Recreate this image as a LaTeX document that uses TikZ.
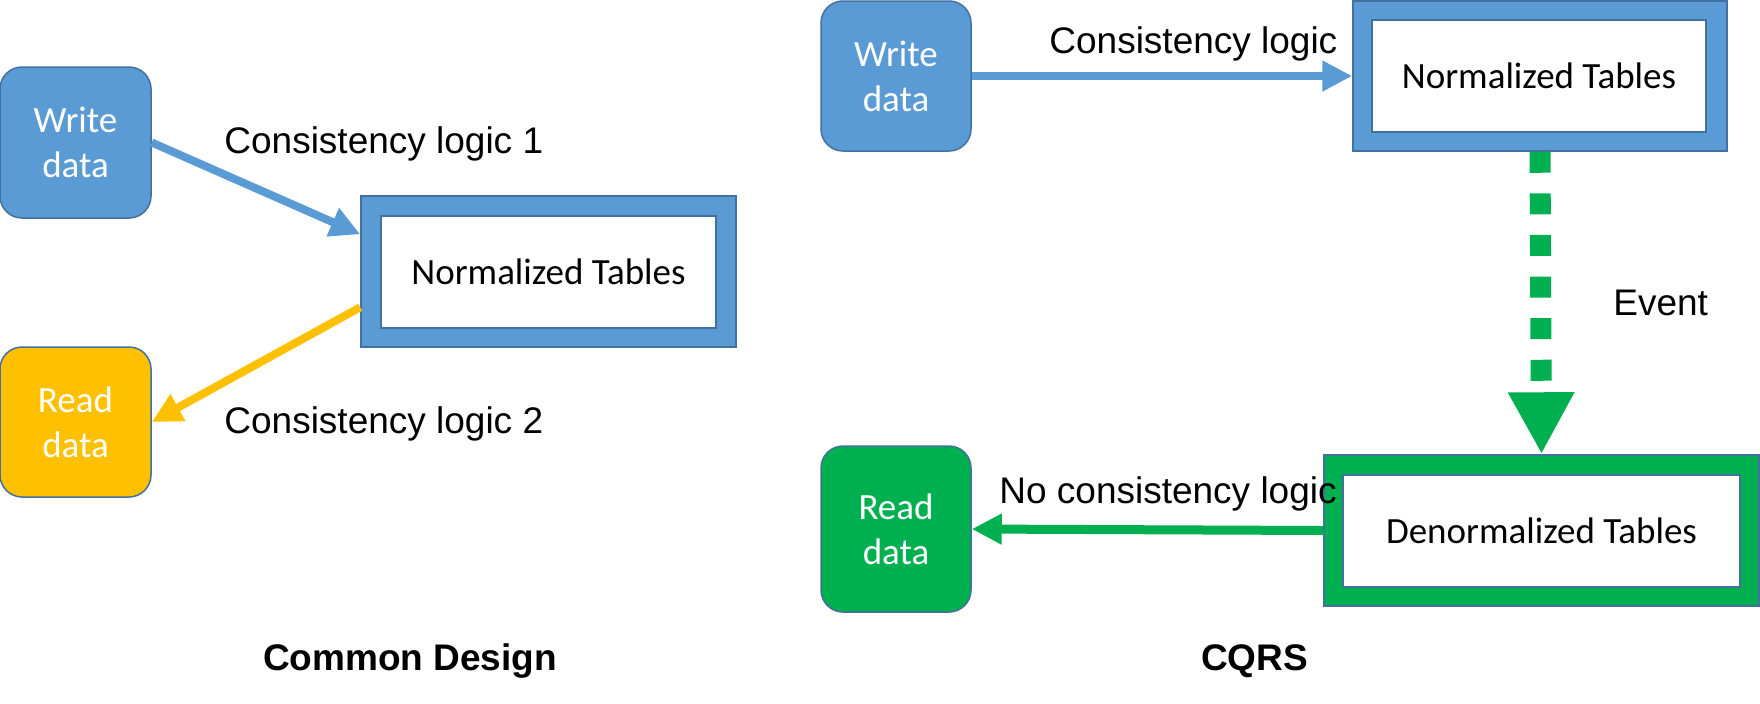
\documentclass[tikz,border=0pt]{standalone}
\usepackage{fontspec}
\setmainfont{Liberation Sans}
\newfontfamily\calfont{Carlito}
\usetikzlibrary{arrows.meta,calc}
\definecolor{pblue}{HTML}{5B9BD5}
\definecolor{pline}{HTML}{41719C}
\definecolor{pyel}{HTML}{FFC000}
\definecolor{pgreen}{HTML}{00B050}
\begin{document}
\begin{tikzpicture}[x=0.5pt,y=-0.5pt,
  box/.style={rounded corners=11pt, draw=pline, line width=0.75pt, text=white,
    font=\calfont\fontsize{18.5}{22.5}\selectfont, align=center, inner sep=0pt},
  outerbox/.style={draw=pline, line width=0.75pt, inner sep=0pt},
  innerbox/.style={fill=white, draw=pline, line width=0.75pt, inner sep=0pt,
    font=\calfont\fontsize{18.5}{22.5}\selectfont},
  lbl/.style={anchor=base west, inner sep=0pt, font=\fontsize{18.5}{22}\selectfont},
  ttl/.style={anchor=base, inner sep=0pt, font=\bfseries\fontsize{18.5}{22}\selectfont},
  conn/.style={line width=4pt, -{Triangle[length=15pt,width=14.5pt]}},
]
\useasboundingbox (0,0) rectangle (1760,703);

% ---- left: common design ----
\node[box, fill=pblue, minimum width=75.5pt, minimum height=75.5pt] (w1) at (75.5,142.5) {Write\\data};
\node[box, fill=pyel, minimum width=75.5pt, minimum height=75pt] (r1) at (75.5,422) {Read\\data};
\node[outerbox, fill=pblue, minimum width=187.5pt, minimum height=75.5pt] (n1o) at (548.5,271.5) {};
\node[innerbox, minimum width=167.5pt, minimum height=56pt] (n1i) at (548.5,272) {Normalized Tables};

\draw[conn, pblue] (w1.east) -- ($(n1o.north west)+(0,39)$);
\draw[conn, pyel] ($(n1o.north west)+(0,112)$) -- (r1.east);

\node[lbl] (l1) at (224,153) {Consistency logic 1};
\node[lbl] (l2) at (224,433) {Consistency logic 2};
\node[ttl] (t1) at (410,670) {Common Design};

% ---- right: CQRS ----
\node[box, fill=pblue, minimum width=75pt, minimum height=75pt] (w2) at (896,76) {Write\\data};
\node[outerbox, fill=pblue, minimum width=187pt, minimum height=75pt] (n2o) at (1540,76) {};
\node[innerbox, minimum width=167pt, minimum height=56pt] (n2i) at (1539,76) {Normalized Tables};

\node[outerbox, fill=pgreen, minimum width=217.5pt, minimum height=75.5pt] (d2o) at (1541.5,530.5) {};
\node[innerbox, minimum width=198.5pt, minimum height=56pt] (d2i) at (1541.5,531) {Denormalized Tables};

\node[box, fill=pgreen, minimum width=75pt, minimum height=83pt] (r2) at (896,529) {Read\\data};

\draw[conn, pblue] (w2.east) -- (n2o.west);
\draw[pgreen, line width=10.5pt, dash pattern=on 10.5pt off 10.3pt,
  -{Triangle[length=31pt,width=31pt]}] (n2o.south) -- (d2o.north);
\draw[pgreen, line width=4.5pt, -{Triangle[length=15pt,width=14.5pt]}] (d2o.west) -- (r2.east);

\node[lbl] (l3) at (1049,53) {Consistency logic};
\node[lbl] (l4) at (1613,315) {Event};
\node[lbl] (l5) at (999,503) {No consistency logic};
\node[ttl] (t2) at (1254.5,670) {CQRS};
\end{tikzpicture}
\end{document}
